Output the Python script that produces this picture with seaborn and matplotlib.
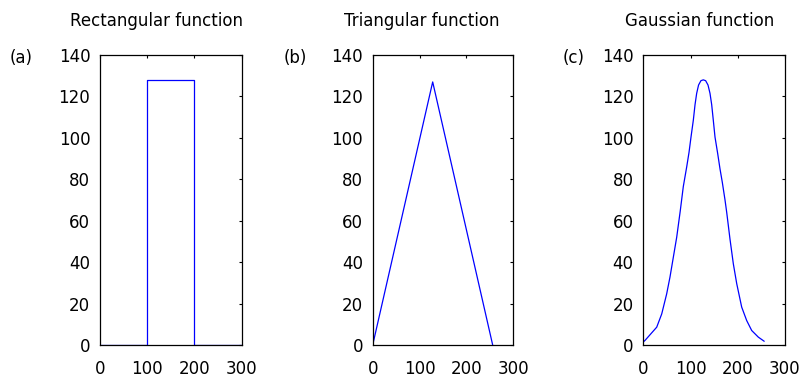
import matplotlib
matplotlib.use("Agg")
import matplotlib.pyplot as plt
import seaborn as sns
import pandas as pd

# ---- data ----
titles = ["Rectangular function", "Triangular function", "Gaussian function"]
panel_labels = ["(a)", "(b)", "(c)"]

rect_x = [0, 100, 100, 200, 200, 300]
rect_y = [0, 0, 128, 128, 0, 0]

tri_x = [0, 128, 256]
tri_y = [0, 127, 0]

gauss_x = [0, 3.6, 28.4, 39, 49.5, 56.5, 63.6, 70.7, 78.1, 84.7, 91.9, 96.8, 101,
           105.9, 109.5, 113, 117, 122, 127, 132, 137, 141.2, 144.8, 148.2, 151.8, 157.5,
           162.4, 167.3, 173, 176.6, 183.6, 190.6, 197.8, 208.3, 218.9, 229.5, 243.5, 256]
gauss_y = [1.5, 2.2, 8.6, 15, 24.7, 32.8, 42.4, 52, 64.5, 76.5, 86, 93, 100.4,
           108.5, 116, 121.5, 125.5, 127.6, 128, 127.6, 125.5, 121.5, 116, 108.5, 100.4, 92.4,
           85, 78.5, 70, 64, 51, 39.2, 29.6, 18.3, 11.8, 7, 3.8, 1.8]

x_ticks = [0, 100, 200, 300]
y_ticks = [0, 20, 40, 60, 80, 100, 120, 140]

series = [(rect_x, rect_y), (tri_x, tri_y), (gauss_x, gauss_y)]

# ---- style ----
sns.set_style("white")
plt.rcParams["font.family"] = ["DejaVu Sans"]

W, H = 801, 380
fig = plt.figure(figsize=(W / 100, H / 100), dpi=100)

# axes boxes in pixels: (left, right)
boxes = [(100, 241.7), (372.7, 513.3), (643.3, 785)]
top_px, bot_px = 55, 345
title_cx = [156, 421.7, 700]
label_cx = [21.5, 295.5, 573.5]

for i, ((xs, ys), (l, r)) in enumerate(zip(series, boxes)):
    ax = fig.add_axes([l / W, (H - bot_px) / H, (r - l) / W, (bot_px - top_px) / H])
    df = pd.DataFrame({"x": xs, "y": ys})
    sns.lineplot(data=df, x="x", y="y", ax=ax, sort=False, estimator=None,
                 color="#0000ff", linewidth=0.9)
    ax.set_xlim(0, 300)
    ax.set_ylim(0, 140)
    ax.set_xticks(x_ticks)
    ax.set_yticks(y_ticks)
    ax.set_xlabel("")
    ax.set_ylabel("")
    ax.tick_params(axis="both", direction="in", length=2.5, width=0.8,
                   top=True, right=True, labelsize=12, colors="black")
    ax.tick_params(axis="x", pad=11)
    ax.tick_params(axis="y", pad=7)
    for s in ax.spines.values():
        s.set_visible(True)
        s.set_color("black")
        s.set_linewidth(0.9)
    fig.text(title_cx[i] / W, (H - 26) / H, titles[i], ha="center", va="baseline",
             fontsize=12, color="black")
    fig.text(label_cx[i] / W, (H - 63) / H, panel_labels[i], ha="center", va="baseline",
             fontsize=12, color="black")

fig.savefig("out.png", dpi=100, facecolor="white")
